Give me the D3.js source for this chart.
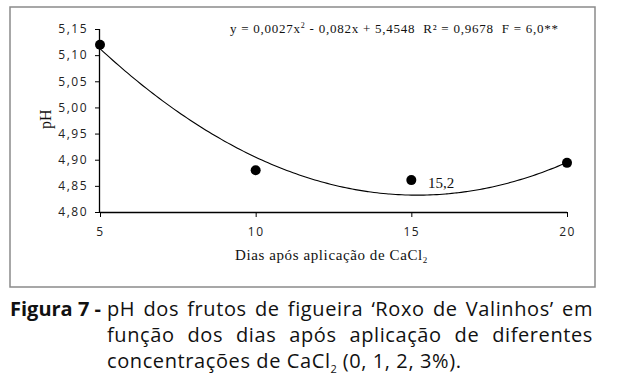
<!DOCTYPE html>
<html><head><meta charset="utf-8">
<script src="https://cdn.jsdelivr.net/npm/d3@7"></script>
<style>
html,body{margin:0;padding:0;background:#fff;}
#wrap{position:relative;width:618px;height:391px;overflow:hidden;}
svg{position:absolute;left:0;top:0;}
.cap{position:absolute;font-family:"Open Sans",sans-serif;font-size:20px;line-height:26px;color:#111;letter-spacing:0.6px;white-space:nowrap;}
.j{width:486px;text-align:justify;text-align-last:justify;}
.sub{font-size:11px;position:relative;top:5px;line-height:0;letter-spacing:0;}
</style></head>
<body><div id="wrap">
<svg id="chart" width="618" height="391"></svg>
<div class="cap" style="left:10px;top:296px;font-weight:bold;letter-spacing:0;">Figura 7 -</div>
<div class="cap j" style="left:107px;top:296px;">pH dos frutos de figueira ‘Roxo de Valinhos’ em</div>
<div class="cap j" style="left:107px;top:322px;">função dos dias após aplicação de diferentes</div>
<div class="cap" style="left:107px;top:348px;">concentrações de CaCl<span class="sub">2</span> (0, 1, 2, 3%).</div>
</div>
<script>
const days = [5, 10, 15, 20];
const phValues = [5.12, 4.88, 4.861, 4.894];
const xTicks = [5, 10, 15, 20];
const yTicks = [4.80, 4.85, 4.90, 4.95, 5.00, 5.05, 5.10, 5.15];
const fitCoef = [0.0027, -0.082, 5.4548]; // y = a x^2 + b x + c
const fitMinX = 15.2;

const svg = d3.select("#chart");
const x = d3.scaleLinear().domain([5, 20]).range([100, 567]);
const y = d3.scaleLinear().domain([4.80, 5.15]).range([212, 29]);
const fmt = d => d3.format(".2f")(d).replace(".", ",");

// frame
svg.append("rect").attr("x", 10).attr("y", 7).attr("width", 585).attr("height", 280)
  .attr("fill", "none").attr("stroke", "#8a8a8a").attr("stroke-width", 1.5);

// y axis
const ya = svg.append("g").attr("transform", "translate(100,0)")
  .call(d3.axisLeft(y).tickValues(yTicks).tickFormat(fmt).tickSize(5).tickPadding(7));
ya.select(".domain").attr("d", `M-0.5,${y(5.15)}V${y(4.80)}`).attr("stroke", "#000").attr("stroke-width", 1.3);
ya.selectAll(".tick text").attr("font-family", "'Open Sans', sans-serif").attr("font-size", 12)
  .attr("letter-spacing", 1.5).attr("fill", "#222");

// x axis
const xa = svg.append("g").attr("transform", `translate(0,${y(4.80)})`)
  .call(d3.axisBottom(x).tickValues(xTicks).tickFormat(d3.format("d")).tickSize(5).tickPadding(10));
xa.select(".domain").attr("d", `M${x(5)},0.5H${x(20)}`).attr("stroke", "#000").attr("stroke-width", 1.3);
xa.selectAll(".tick text").attr("font-family", "'Open Sans', sans-serif").attr("font-size", 12)
  .attr("letter-spacing", 1.5).attr("fill", "#222");

// fitted curve (regression equation shown on chart)
const curvePts = d3.range(5, 20.01, 0.1).map(t => [t, fitCoef[0]*t*t + fitCoef[1]*t + fitCoef[2]]);
svg.append("path").datum(curvePts)
  .attr("d", d3.line().x(d => x(d[0])).y(d => y(d[1])).curve(d3.curveBasis))
  .attr("fill", "none").attr("stroke", "#000").attr("stroke-width", 1.1);

// points
svg.selectAll("circle.pt").data(days).join("circle").attr("class", "pt")
  .attr("cx", (d) => x(d)).attr("cy", (d, i) => y(phValues[i])).attr("r", 5).attr("fill", "#000");

// annotation 15,2
svg.append("text").attr("x", 428).attr("y", 188)
  .attr("font-family", "'Liberation Serif', 'Times New Roman', serif").attr("font-size", 15).attr("fill", "#111")
  .text(String(fitMinX).replace(".", ","));

// equation
const eq = svg.append("text").attr("x", 230).attr("y", 33)
  .attr("font-family", "'Liberation Serif', 'Times New Roman', serif").attr("font-size", 13).attr("fill", "#111")
  .attr("letter-spacing", 0.75);
eq.append("tspan").text("y = 0,0027x");
eq.append("tspan").attr("font-size", 8).attr("dy", -5).text("2");
eq.append("tspan").attr("dy", 5).text(" - 0,082x + 5,4548\u00a0\u00a0R² = 0,9678\u00a0\u00a0F = 6,0**");

// y title
svg.append("text").attr("transform", "translate(51,129) rotate(-90)").attr("text-anchor", "start")
  .attr("font-family", "'Liberation Serif', 'Times New Roman', serif").attr("font-size", 16).attr("fill", "#111")
  .text("pH");

// x title
const xt = svg.append("text").attr("x", 235).attr("y", 260)
  .attr("font-family", "'Liberation Serif', 'Times New Roman', serif").attr("font-size", 15).attr("fill", "#111")
  .attr("letter-spacing", 0.6);
xt.append("tspan").text("Dias após aplicação de CaCl");
xt.append("tspan").attr("font-size", 9).attr("dy", 3).text("2");
</script>
</body></html>
